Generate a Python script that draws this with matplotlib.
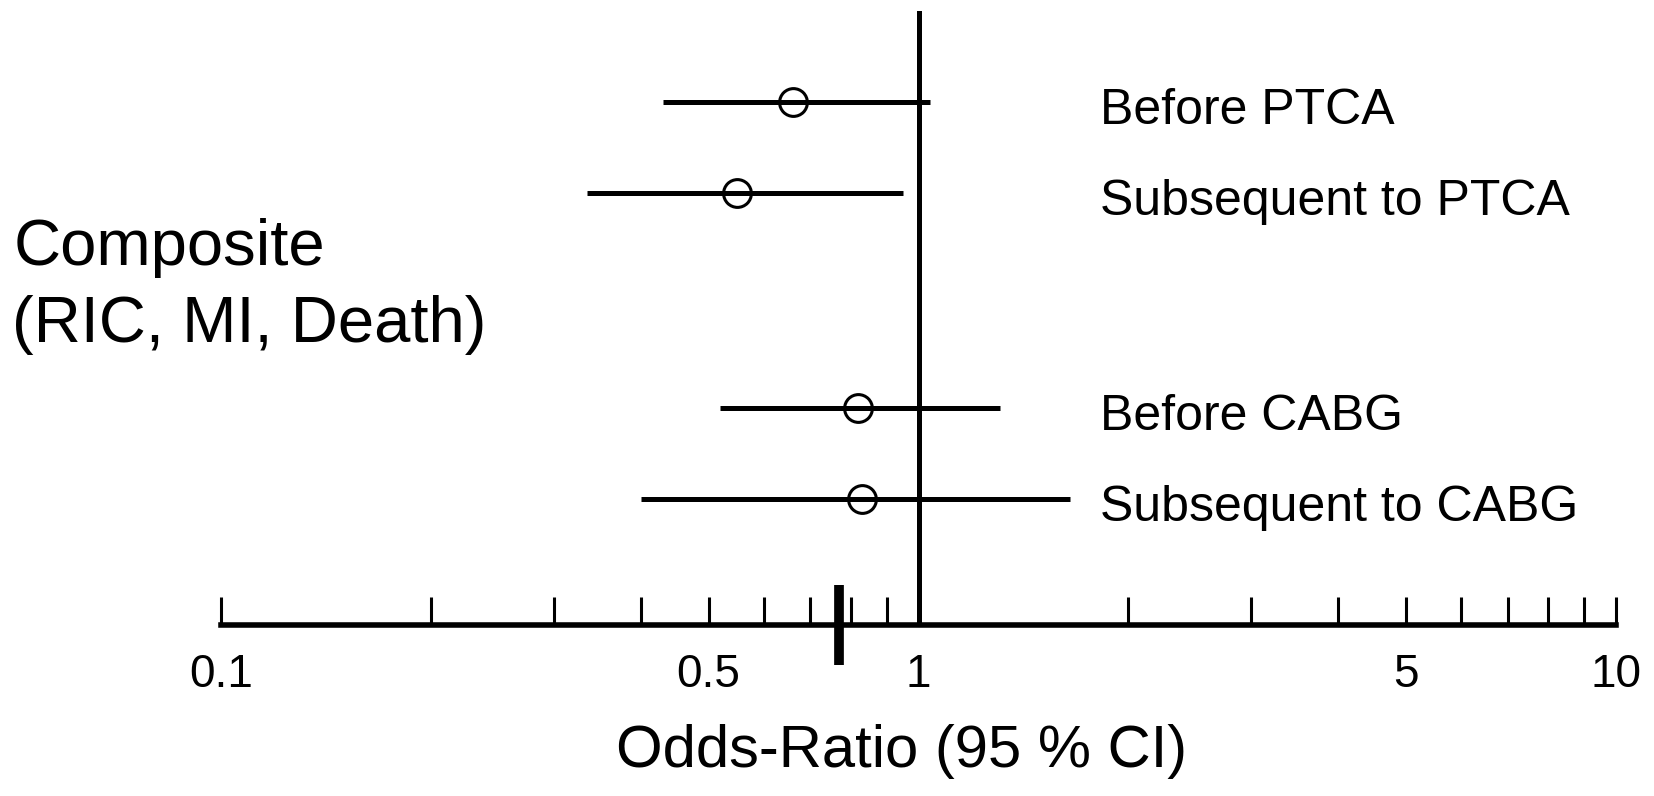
import matplotlib
matplotlib.use('Agg')
import matplotlib.pyplot as plt
import matplotlib.ticker as mticker
from matplotlib.transforms import blended_transform_factory

plt.rcParams['font.family'] = ['Liberation Sans', 'DejaVu Sans']

# odds ratios with 95% CI, top row first
groups = ['Before PTCA', 'Subsequent to PTCA', 'Before CABG', 'Subsequent to CABG']
odds = [0.66, 0.55, 0.82, 0.83]
ci_low = [0.43, 0.335, 0.52, 0.40]
ci_high = [1.04, 0.95, 1.31, 1.65]
pooled = 0.77
outcome = ['Composite', '(RIC, MI, Death)']
major_ticks = [0.1, 0.5, 1, 5, 10]
major_labels = ['0.1', '0.5', '1', '5', '10']

# rows: two pairs with a wider gap between them
row_y = [4.36, 3.36, 1.0, 0.0]

fig = plt.figure(figsize=(16.54, 7.96), dpi=100)
ax = fig.add_axes([221 / 1654, 171 / 796, 1395 / 1654, 614 / 796])

ax.set_xscale('log')
ax.set_xlim(0.1, 10)
ax.set_ylim(-1.385, 5.36)

for y, o, lo, hi in zip(row_y, odds, ci_low, ci_high):
    ax.plot([lo, hi], [y, y], color='black', lw=3.6, solid_capstyle='butt')
    ax.plot(o, y, 'o', ms=20, mfc='none', mec='black', mew=2.2)

ax.axvline(1, color='black', lw=3.6, zorder=3)

# pooled estimate marker across the axis
ax.plot([pooled, pooled], [-1.385 - 0.44, -1.385 + 0.44], color='black', lw=7,
        solid_capstyle='butt', clip_on=False, zorder=5)

for s in ['top', 'right', 'left']:
    ax.spines[s].set_visible(False)
ax.spines['bottom'].set_linewidth(4)
ax.set_yticks([])

ax.xaxis.set_major_locator(mticker.FixedLocator(major_ticks))
ax.set_xticklabels(major_labels, fontsize=33)
ax.xaxis.set_minor_locator(mticker.LogLocator(base=10, subs=range(2, 10)))
ax.xaxis.set_minor_formatter(mticker.NullFormatter())
ax.tick_params(axis='x', which='both', direction='in', length=20, width=2.2, pad=20)

trans = blended_transform_factory(fig.transFigure, ax.transData)
for name, y in zip(groups, row_y):
    ax.text(1100 / 1654, y - 0.1, name, transform=trans,
            fontsize=36, va='center', ha='left')

fig.text(14 / 1654, 1 - 265 / 796, outcome[0], fontsize=47, va='baseline', ha='left')
fig.text(12 / 1654, 1 - 342 / 796, outcome[1], fontsize=47, va='baseline', ha='left')

fig.text(902 / 1654, 1 - 724 / 796, 'Odds-Ratio (95 % CI)', fontsize=43, va='top', ha='center')

plt.savefig('out.png', dpi=100)
